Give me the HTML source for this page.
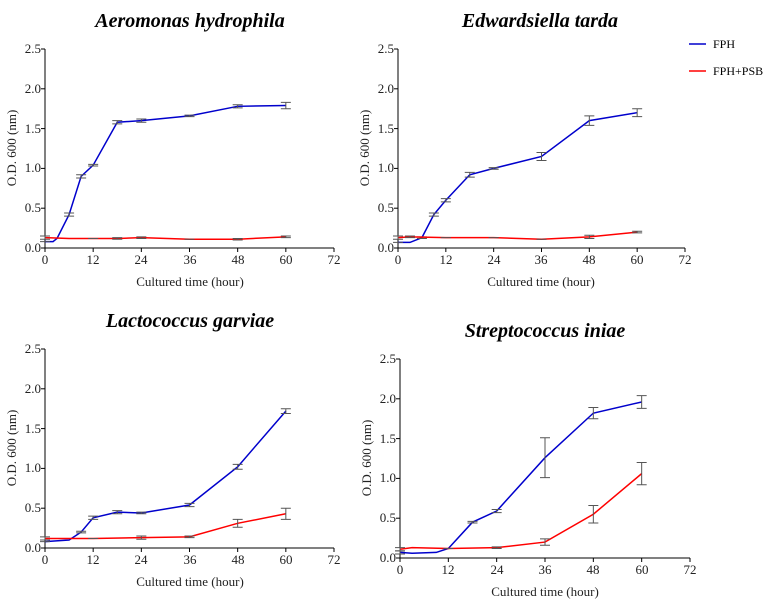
<!DOCTYPE html>
<html><head><meta charset="utf-8"><style>
body{margin:0;background:#fff}
svg{display:block;font-family:"Liberation Serif",serif}
.t{font-size:12px;fill:#000}
.ti{font-size:20px;font-weight:bold;font-style:italic}
</style></head><body>
<svg id="s" width="765" height="606" viewBox="0 0 765 606">
<text class="ti" x="190" y="27" text-anchor="middle">Aeromonas hydrophila</text>
<text class="ti" x="540" y="27" text-anchor="middle">Edwardsiella tarda</text>
<text class="ti" x="190" y="327" text-anchor="middle">Lactococcus garviae</text>
<text class="ti" x="545" y="337" text-anchor="middle">Streptococcus iniae</text>
<line x1="689" y1="44" x2="706" y2="44" stroke="#0000cc" stroke-width="1.5"/>
<text class="t" x="713" y="48">FPH</text>
<line x1="689" y1="71" x2="706" y2="71" stroke="#ff0000" stroke-width="1.5"/>
<text class="t" x="713" y="75">FPH+PSB</text>
<g font-family="Liberation Serif" font-size="13" fill="#222">
<g text-anchor="end">
<text x="41" y="53">2.5</text><text x="41" y="93">2.0</text><text x="41" y="133">1.5</text><text x="41" y="172">1.0</text><text x="41" y="212">0.5</text><text x="41" y="252">0.0</text>
<text x="394" y="53">2.5</text><text x="394" y="93">2.0</text><text x="394" y="133">1.5</text><text x="394" y="172">1.0</text><text x="394" y="212">0.5</text><text x="394" y="252">0.0</text>
<text x="41" y="353">2.5</text><text x="41" y="393">2.0</text><text x="41" y="433">1.5</text><text x="41" y="472">1.0</text><text x="41" y="512">0.5</text><text x="41" y="552">0.0</text>
<text x="396" y="363">2.5</text><text x="396" y="403">2.0</text><text x="396" y="443">1.5</text><text x="396" y="482">1.0</text><text x="396" y="522">0.5</text><text x="396" y="562">0.0</text>
</g>
<g text-anchor="middle">
<text x="45" y="264">0</text><text x="93" y="264">12</text><text x="141" y="264">24</text><text x="190" y="264">36</text><text x="238" y="264">48</text><text x="286" y="264">60</text><text x="334" y="264">72</text>
<text x="398" y="264">0</text><text x="446" y="264">12</text><text x="494" y="264">24</text><text x="541" y="264">36</text><text x="589" y="264">48</text><text x="637" y="264">60</text><text x="685" y="264">72</text>
<text x="45" y="564">0</text><text x="93" y="564">12</text><text x="141" y="564">24</text><text x="190" y="564">36</text><text x="238" y="564">48</text><text x="286" y="564">60</text><text x="334" y="564">72</text>
<text x="400" y="574">0</text><text x="448" y="574">12</text><text x="497" y="574">24</text><text x="545" y="574">36</text><text x="593" y="574">48</text><text x="642" y="574">60</text><text x="690" y="574">72</text>
<text x="190" y="286">Cultured time (hour)</text><text x="541" y="286">Cultured time (hour)</text>
<text x="190" y="586">Cultured time (hour)</text><text x="545" y="596">Cultured time (hour)</text>
<text transform="translate(16,148) rotate(-90)">O.D. 600 (nm)</text>
<text transform="translate(369,148) rotate(-90)">O.D. 600 (nm)</text>
<text transform="translate(16,448) rotate(-90)">O.D. 600 (nm)</text>
<text transform="translate(371,458) rotate(-90)">O.D. 600 (nm)</text>
</g></g>
<g id="g"></g>
</svg>
<script>
const P=[
 {x0:45,x1:334,yt:49,yb:248,
  b:[[0,.08,0],[2,.08,0],[3,.12,0],[6,.42,.02],[9,.9,.02],[12,1.04,.01],[18,1.58,.02],[24,1.6,.02],[36,1.66,.01],[48,1.78,.02],[60,1.79,.04]],
  r:[[0,.13,.02],[6,.12,0],[12,.12,0],[18,.12,.01],[24,.13,.01],[36,.11,0],[48,.11,.01],[60,.14,.01]]},
 {x0:398,x1:685,yt:49,yb:248,
  b:[[0,.07,0],[3,.07,0],[6,.13,.01],[9,.42,.02],[12,.6,.02],[18,.92,.03],[24,1.0,.01],[36,1.15,.05],[48,1.6,.06],[60,1.7,.05]],
  r:[[0,.13,.02],[3,.14,.01],[12,.13,0],[24,.13,0],[36,.11,0],[48,.14,.02],[60,.2,.01]]},
 {x0:45,x1:334,yt:349,yb:548,
  b:[[0,.08,0],[6,.1,0],[9,.2,.01],[12,.38,.02],[18,.45,.02],[24,.44,.01],[36,.54,.02],[48,1.02,.03],[60,1.72,.03]],
  r:[[0,.12,.02],[12,.12,0],[24,.13,.02],[36,.14,.01],[48,.31,.05],[60,.43,.07]]},
 {x0:400,x1:690,yt:359,yb:558,
  b:[[0,.07,.02],[3,.06,0],[9,.07,0],[12,.12,0],[18,.45,.01],[24,.59,.02],[36,1.26,.25],[48,1.82,.07],[60,1.96,.08]],
  r:[[0,.11,.02],[3,.13,0],[12,.12,0],[24,.13,.01],[36,.2,.04],[48,.55,.11],[60,1.06,.14]]}
];
let h='';
P.forEach(p=>{
 const X=t=>p.x0+t*(p.x1-p.x0)/72, Y=v=>p.yb-v*(p.yb-p.yt)/2.5;
 h+=`<line x1="${p.x0}" y1="${p.yt}" x2="${p.x0}" y2="${p.yb}" stroke="#000"/>`;
 h+=`<line x1="${p.x0}" y1="${p.yb}" x2="${p.x1}" y2="${p.yb}" stroke="#000"/>`;
 for(let i=0;i<=5;i++){const y=Y(i*.5);h+=`<line x1="${p.x0-4}" y1="${y}" x2="${p.x0}" y2="${y}" stroke="#000"/>`;}
 for(let i=0;i<=6;i++){const x=X(i*12);h+=`<line x1="${x}" y1="${p.yb}" x2="${x}" y2="${p.yb+4}" stroke="#000"/>`;}
 [['b','#0000cc'],['r','#ff0000']].forEach(([k,c])=>{
  h+=`<polyline fill="none" stroke="${c}" stroke-width="1.5" points="${p[k].map(d=>X(d[0])+','+Y(d[1])).join(' ')}"/>`;
  p[k].forEach(d=>{if(d[2]>0||d[0]%12==0){const x=X(d[0]),a=Y(d[1]+d[2]),b=Y(d[1]-d[2]);
   h+=`<path d="M${x},${a}V${b}M${x-5},${a}H${x+5}M${x-5},${b}H${x+5}" stroke="#555" fill="none"/>`;}});
 });
});
document.getElementById('g').innerHTML=h;
</script>
</body></html>
